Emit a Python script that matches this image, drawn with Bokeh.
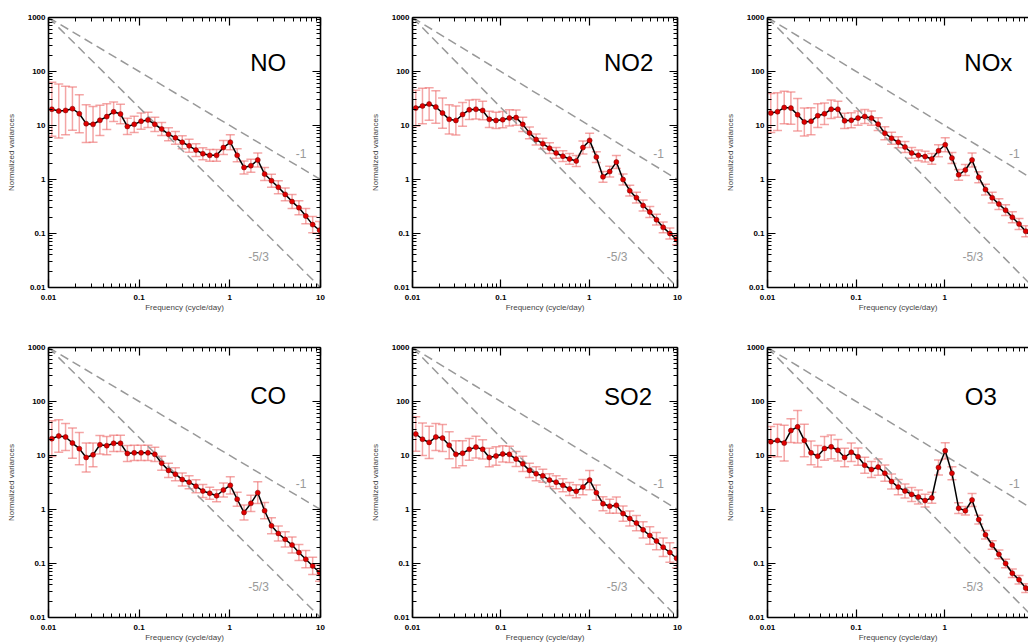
import numpy as np
from bokeh.plotting import figure
from bokeh.layouts import column, row
from bokeh.models import (Range1d, LogAxis, FixedTicker, CustomJSTickFormatter,
                          Whisker, TeeHead, ColumnDataSource, Label)
from bokeh.embed import file_html
from bokeh.resources import INLINE

# ---------------- data ----------------
freq = [0.01089, 0.01297, 0.01543, 0.01837, 0.02187, 0.02603, 0.03099, 0.03689,
        0.04392, 0.05228, 0.06223, 0.07408, 0.08819, 0.1050, 0.1250, 0.1488,
        0.1771, 0.2108, 0.2510, 0.2987, 0.3556, 0.4233, 0.5039, 0.5998,
        0.7141, 0.8500, 1.012, 1.205, 1.434, 1.707, 2.032, 2.419,
        2.880, 3.428, 4.081, 4.858, 5.783, 6.885, 8.195, 9.757]

species = ["NO", "NO2", "NOx", "CO", "SO2", "O3"]

no_var = [20, 18.5, 19, 20.5, 16.5, 10.8, 10.5, 12.5, 14.6, 18, 16.3, 9.6, 10.5, 12, 12.7, 10.5,
          8.6, 6.9, 5.9, 4.9, 4.2, 3.5, 3.0, 2.8, 2.8, 3.9, 4.9, 2.8, 1.67, 1.8, 2.3, 1.26,
          0.95, 0.72, 0.53, 0.39, 0.30, 0.21, 0.146, 0.115]
no_err = [0.5, 0.5, 0.45, 0.4, 0.35, 0.35, 0.33, 0.28, 0.24, 0.18, 0.18, 0.15, 0.15, 0.15, 0.14, 0.13,
          0.12, 0.12, 0.12, 0.12, 0.12, 0.12, 0.11, 0.11, 0.11, 0.13, 0.14, 0.12, 0.12, 0.12, 0.13, 0.12,
          0.12, 0.12, 0.12, 0.13, 0.13, 0.14, 0.15, 0.16]

no2_var = [21, 23, 25, 22, 17, 13, 12.4, 16, 19.5, 20, 19, 13, 12.4, 12.8, 13.8, 14,
           10.5, 7.3, 5.5, 4.6, 3.8, 3.1, 2.7, 2.4, 2.2, 3.9, 5.3, 2.6, 1.12, 1.4, 2.1, 1.0,
           0.62, 0.46, 0.33, 0.25, 0.18, 0.13, 0.1, 0.078]
no2_err = [0.33, 0.33, 0.3, 0.3, 0.28, 0.27, 0.27, 0.22, 0.18, 0.18, 0.17, 0.15, 0.15, 0.15, 0.15, 0.14,
           0.13, 0.11, 0.1, 0.1, 0.1, 0.1, 0.1, 0.1, 0.1, 0.12, 0.13, 0.1, 0.1, 0.1, 0.12, 0.1,
           0.1, 0.1, 0.1, 0.1, 0.1, 0.1, 0.1, 0.1]

nox_var = [17, 18, 21.5, 21, 15.8, 11.6, 12, 15.2, 16.5, 20, 20, 12.2, 12.5, 13.7, 14.7, 13.7,
           10.6, 7.2, 5.8, 4.9, 4.0, 3.1, 2.8, 2.66, 2.4, 3.4, 4.4, 2.5, 1.22, 1.5, 2.3, 1.1,
           0.65, 0.46, 0.35, 0.27, 0.2, 0.15, 0.11, 0.085]
nox_err = [0.36, 0.35, 0.3, 0.3, 0.3, 0.26, 0.25, 0.22, 0.2, 0.17, 0.15, 0.14, 0.14, 0.13, 0.13, 0.13,
           0.12, 0.12, 0.11, 0.1, 0.1, 0.1, 0.1, 0.1, 0.1, 0.11, 0.13, 0.1, 0.1, 0.1, 0.13, 0.1,
           0.1, 0.1, 0.1, 0.1, 0.1, 0.1, 0.1, 0.1]

co_var = [20.5, 23, 22, 17, 13.4, 9.2, 10.3, 15.8, 15.2, 16.8, 16.8, 10.9, 11.2, 11.2, 11.2, 10.5,
          7.2, 5.3, 4.5, 3.6, 3.2, 2.7, 2.2, 2.0, 1.8, 2.3, 2.8, 1.55, 0.88, 1.3, 2.05, 0.95,
          0.5, 0.36, 0.28, 0.22, 0.16, 0.12, 0.09, 0.068]
co_err = [0.33, 0.3, 0.25, 0.28, 0.3, 0.27, 0.22, 0.17, 0.17, 0.15, 0.15, 0.15, 0.14, 0.14, 0.14, 0.13,
          0.13, 0.13, 0.12, 0.12, 0.12, 0.12, 0.12, 0.11, 0.11, 0.13, 0.16, 0.13, 0.14, 0.15, 0.2, 0.15,
          0.15, 0.14, 0.14, 0.15, 0.15, 0.16, 0.16, 0.16]

so2_var = [25, 20, 17.5, 22, 21, 15.5, 10.5, 11, 13, 14.3, 13, 9.2, 9.8, 10.7, 10.5, 8.6,
           7.0, 5.3, 4.6, 4.2, 3.5, 3.2, 2.8, 2.4, 2.17, 2.6, 3.5, 2.05, 1.28, 1.15, 1.2, 0.84,
           0.68, 0.56, 0.42, 0.33, 0.26, 0.2, 0.16, 0.125]
so2_err = [0.32, 0.3, 0.3, 0.25, 0.25, 0.25, 0.25, 0.23, 0.2, 0.2, 0.18, 0.17, 0.17, 0.15, 0.15, 0.14,
           0.14, 0.13, 0.13, 0.12, 0.12, 0.12, 0.12, 0.12, 0.12, 0.14, 0.18, 0.14, 0.13, 0.13, 0.15, 0.14,
           0.14, 0.14, 0.15, 0.16, 0.16, 0.17, 0.18, 0.18]

o3_var = [18, 19, 17, 29, 34, 19, 11.2, 9.7, 13.5, 14.5, 12.5, 9.2, 11.5, 9.5, 6.6, 5.5,
          6.1, 4.7, 3.3, 2.6, 2.2, 1.9, 1.7, 1.46, 1.65, 6.0, 12.2, 4.7, 1.06, 0.95, 1.5, 0.65,
          0.34, 0.22, 0.148, 0.1, 0.066, 0.05, 0.035, 0.027]
o3_err = [0.28, 0.3, 0.33, 0.22, 0.3, 0.3, 0.22, 0.2, 0.22, 0.22, 0.2, 0.17, 0.17, 0.16, 0.15, 0.15,
          0.15, 0.15, 0.14, 0.14, 0.13, 0.13, 0.13, 0.12, 0.1, 0.14, 0.15, 0.12, 0.1, 0.08, 0.12, 0.08,
          0.08, 0.08, 0.08, 0.08, 0.08, 0.08, 0.08, 0.08]

x_tick_values = [0.01, 0.1, 1, 10]
x_tick_labels = ["0.01", "0.1", "1", "10"]
y_tick_values = [0.01, 0.1, 1, 10, 100, 1000]
y_tick_labels = ["0.01", "0.1", "1", "10", "100", "1000"]

ref_x = [0.01, 10]
ref_y_slope1 = [1000, 1]        # slope -1
ref_y_slope53 = [1000, 0.01]    # slope -5/3
slope_labels = ["-1", "-5/3"]

series = [no_var, no2_var, nox_var, co_var, so2_var, o3_var]
errors = [no_err, no2_err, nox_err, co_err, so2_err, o3_err]

# ---------------- layout / style ----------------
FONT = "Liberation Sans"
FRAME_H = 270
label_x = [2.65, 2.8, 3.1, 2.65, 2.75, 2.55]
label_y = [147, 147, 147, 128, 126, 122]

minor_x = [m * 10.0 ** e for e in range(-2, 1) for m in range(2, 10)]
minor_y = [m * 10.0 ** e for e in range(-2, 3) for m in range(2, 10)]

FMT_CODE = """
for (let i = 0; i < vals.length; i++) {
  if (Math.abs(Math.log10(tick) - Math.log10(vals[i])) < 1e-6) return labs[i];
}
return "";
"""


def style_axis(ax, labels=True):
    ax.axis_line_width = 1.6
    ax.axis_line_color = "black"
    ax.major_tick_in = 8
    ax.major_tick_out = 0
    ax.minor_tick_in = 4
    ax.minor_tick_out = 0
    ax.major_tick_line_width = 1.2
    ax.minor_tick_line_width = 1.0
    ax.major_tick_line_color = "black"
    ax.minor_tick_line_color = "black"
    if labels:
        ax.major_label_text_font = FONT
        ax.major_label_text_font_size = "8px"
        ax.major_label_text_font_style = "bold"
        ax.major_label_text_color = "black"
        ax.axis_label_text_font = FONT
        ax.axis_label_text_font_size = "8px"
        ax.axis_label_text_font_style = "normal"
        ax.axis_label_text_color = "#444444"


def make_panel(idx, width, height, x_end, b_left, b_right, b_top, b_bottom, right_axis):
    p = figure(width=width, height=height, x_axis_type="log", y_axis_type="log",
               x_range=Range1d(0.01, x_end), y_range=Range1d(0.01, 1000),
               output_backend="svg", toolbar_location=None,
               min_border_left=b_left, min_border_right=b_right,
               min_border_top=b_top, min_border_bottom=b_bottom)
    p.outline_line_color = None
    p.grid.visible = False
    p.background_fill_color = "white"
    p.border_fill_color = "white"

    xt = FixedTicker(ticks=x_tick_values, minor_ticks=minor_x)
    yt = FixedTicker(ticks=y_tick_values, minor_ticks=minor_y)

    xa = p.xaxis[0]
    xa.ticker = xt
    xa.formatter = CustomJSTickFormatter(args=dict(vals=x_tick_values, labs=x_tick_labels), code=FMT_CODE)
    xa.axis_label = "Frequency (cycle/day)"
    style_axis(xa)
    xa.major_label_standoff = 7
    xa.axis_label_standoff = 0

    ya = p.yaxis[0]
    ya.ticker = yt
    ya.formatter = CustomJSTickFormatter(args=dict(vals=y_tick_values, labs=y_tick_labels), code=FMT_CODE)
    ya.axis_label = "Normalized variances"
    style_axis(ya)
    ya.major_label_standoff = 3
    ya.axis_label_standoff = 9

    empty = CustomJSTickFormatter(code="return '';")
    top = LogAxis(ticker=FixedTicker(ticks=x_tick_values, minor_ticks=minor_x), formatter=empty,
                  major_label_standoff=0, major_label_text_font_size="1px")
    style_axis(top, labels=False)
    p.add_layout(top, "above")
    if right_axis:
        rt = LogAxis(ticker=FixedTicker(ticks=y_tick_values, minor_ticks=minor_y), formatter=empty,
                     major_label_standoff=0, major_label_text_font_size="1px")
        style_axis(rt, labels=False)
        p.add_layout(rt, "right")

    # reference slopes
    p.line(ref_x, ref_y_slope1, line_color="#999999", line_width=1.5, line_dash="9 5")
    p.line(ref_x, ref_y_slope53, line_color="#999999", line_width=1.5, line_dash="9 5")

    vals = np.array(series[idx], dtype=float)
    err = np.array(errors[idx], dtype=float)
    src = ColumnDataSource(dict(x=freq, y=vals, upper=vals * 10 ** err, lower=vals / 10 ** err))
    ecol = "#ec6a6a"
    w = Whisker(source=src, base="x", upper="upper", lower="lower",
                line_color=ecol, line_alpha=0.6, line_width=1.5,
                upper_head=TeeHead(size=9, line_color=ecol, line_alpha=0.6, line_width=1.5),
                lower_head=TeeHead(size=9, line_color=ecol, line_alpha=0.6, line_width=1.5))
    p.add_layout(w)
    p.line("x", "y", source=src, line_color="black", line_width=1.5)
    p.scatter("x", "y", source=src, size=5, fill_color="#e00000", line_color="#6a0000", line_width=0.5)

    p.add_layout(Label(x=label_x[idx], y=label_y[idx], text=species[idx], text_align="center",
                       text_baseline="middle", text_font=FONT, text_font_size="24px",
                       text_color="black"))
    p.add_layout(Label(x=6.1, y=3.0, text=slope_labels[0], text_align="center",
                       text_baseline="middle", text_font=FONT, text_font_size="12px",
                       text_color="#999999"))
    p.add_layout(Label(x=2.07, y=0.037, text=slope_labels[1], text_align="center",
                       text_baseline="middle", text_font=FONT, text_font_size="12px",
                       text_color="#999999"))
    return p


# column geometry: (left border, frame width, right border, x end, right axis)
col_geom = [(48, 272, 47, 10, True), (40, 270, 45, 10, True),
            (40, 266, 0, 10 ** (-2 + 3 * 266 / 271), False)]
row_geom = [(17, 51), (9, 27)]

rows = []
for r, (bt, bb) in enumerate(row_geom):
    figs = []
    for c, (bl, fw, br, xe, ra) in enumerate(col_geom):
        idx = r * 3 + c
        figs.append(make_panel(idx, bl + fw + br, bt + FRAME_H + bb, xe, bl, br, bt, bb, ra))
    rows.append(row(*figs))

layout = column(*rows)
open("out.html", "w").write(file_html(layout, INLINE))
